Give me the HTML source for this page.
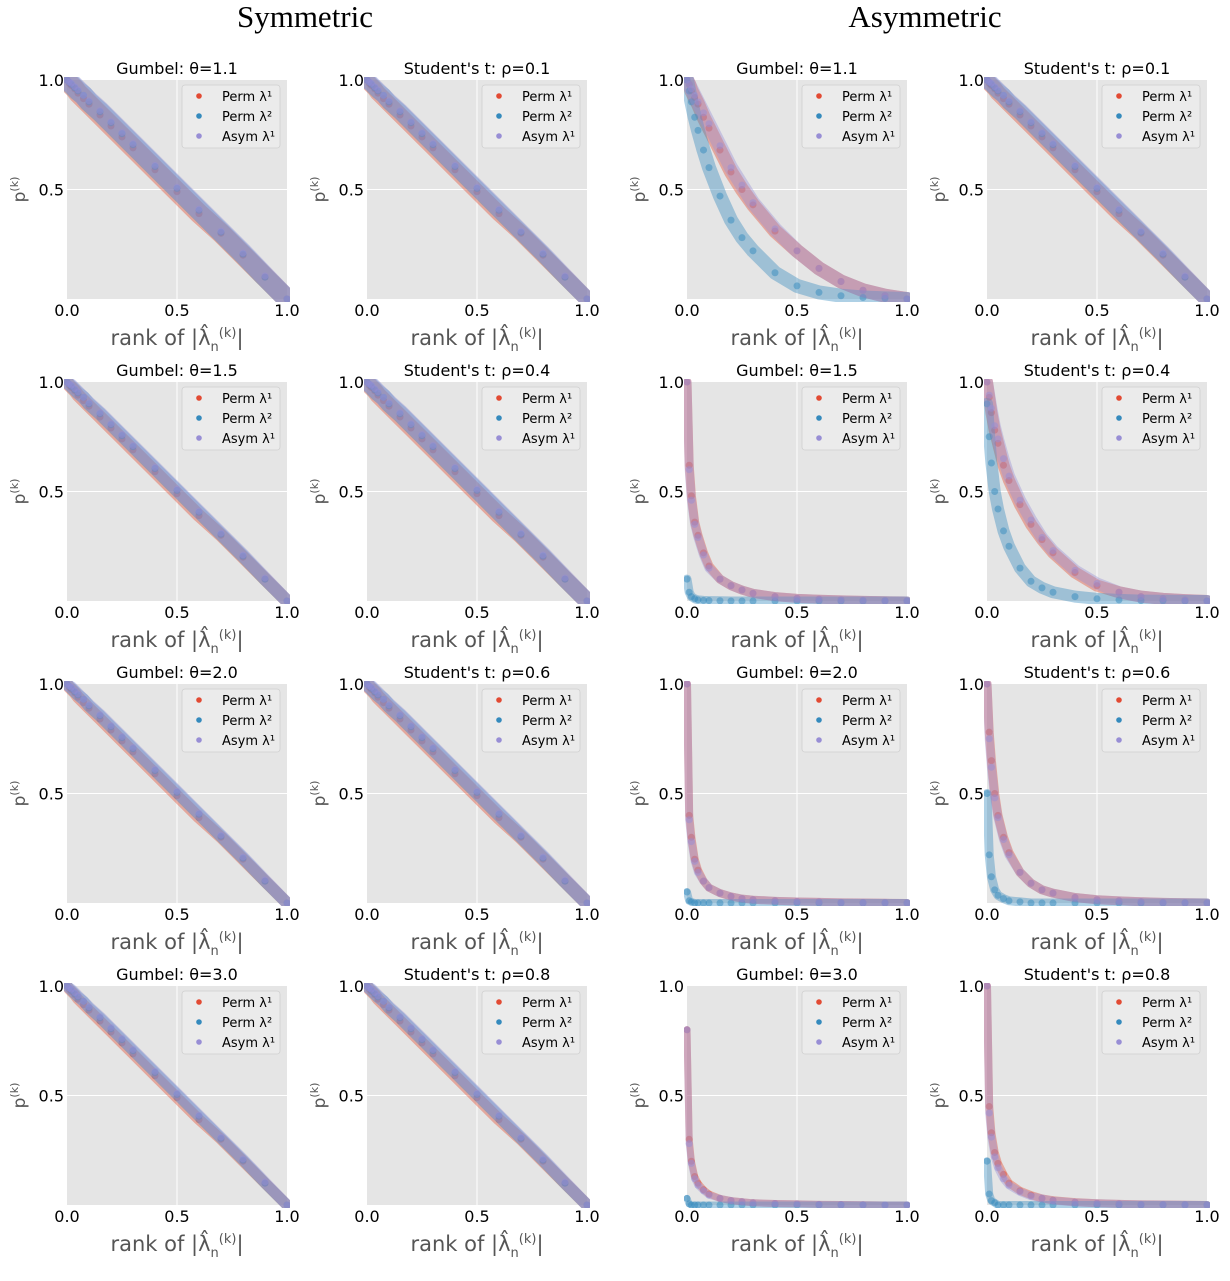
<!DOCTYPE html>
<html><head><meta charset="utf-8"><style>body{margin:0;background:#fff}svg{display:block;font-family:"DejaVu Sans","Liberation Sans",sans-serif}</style></head>
<body>
<svg id="fig" width="1230" height="1281" viewBox="0 0 1230 1281">
<text x="305" y="27" font-size="31" text-anchor="middle" font-family="Liberation Serif,serif">Symmetric</text>
<text x="925" y="27" font-size="31" text-anchor="middle" font-family="Liberation Serif,serif">Asymmetric</text>
</svg>
<script>
const xs=[0,0.01,0.02,0.035,0.05,0.075,0.1,0.15,0.2,0.25,0.3,0.4,0.5,0.6,0.7,0.8,0.9,1.0];
const xTicks=["0.0","0.5","1.0"];
const yTicks=["0.5","1.0"];
const seriesNames=["Perm λ¹","Perm λ²","Asym λ¹"];
const titles=[["Gumbel: θ=1.1","Student's t: ρ=0.1","Gumbel: θ=1.1","Student's t: ρ=0.1"],
["Gumbel: θ=1.5","Student's t: ρ=0.4","Gumbel: θ=1.5","Student's t: ρ=0.4"],
["Gumbel: θ=2.0","Student's t: ρ=0.6","Gumbel: θ=2.0","Student's t: ρ=0.6"],
["Gumbel: θ=3.0","Student's t: ρ=0.8","Gumbel: θ=3.0","Student's t: ρ=0.8"]];
const linRed=[1,0.985,0.975,0.96,0.94,0.915,0.89,0.84,0.79,0.74,0.69,0.59,0.49,0.39,0.3,0.2,0.1,0];
const linBlue=[1,0.99,0.98,0.965,0.95,0.93,0.9,0.855,0.805,0.755,0.705,0.605,0.505,0.405,0.305,0.205,0.1,0];
const linPurple=[1,0.99,0.985,0.97,0.955,0.93,0.905,0.86,0.81,0.76,0.71,0.61,0.51,0.41,0.31,0.21,0.105,0];
const a1Red=[1,0.98,0.95,0.92,0.89,0.83,0.78,0.68,0.58,0.5,0.43,0.31,0.22,0.14,0.08,0.04,0.015,0];
const a1Blue=[1,0.95,0.9,0.83,0.77,0.68,0.6,0.47,0.36,0.28,0.22,0.12,0.06,0.03,0.015,0.007,0.003,0];
const a1Purple=[1,0.98,0.96,0.93,0.9,0.85,0.8,0.7,0.6,0.52,0.44,0.32,0.22,0.14,0.08,0.04,0.015,0];
const a2Red=[1,0.62,0.48,0.36,0.3,0.22,0.16,0.1,0.07,0.05,0.035,0.02,0.012,0.008,0.005,0.003,0.001,0];
const a2Blue=[0.1,0.04,0.02,0.01,0.005,0.003,0.002,0.001,0,0,0,0,0,0,0,0,0,0];
const a2Purple=[1,0.6,0.46,0.35,0.29,0.21,0.15,0.1,0.07,0.05,0.035,0.02,0.012,0.008,0.005,0.003,0.001,0];
const b2Red=[1,0.93,0.86,0.78,0.72,0.62,0.55,0.44,0.35,0.28,0.22,0.13,0.07,0.04,0.02,0.01,0.004,0];
const b2Blue=[0.9,0.75,0.63,0.5,0.42,0.32,0.25,0.15,0.09,0.06,0.04,0.02,0.01,0.005,0.002,0.001,0,0];
const b2Purple=[1,0.94,0.88,0.8,0.74,0.65,0.57,0.46,0.37,0.29,0.23,0.14,0.08,0.04,0.02,0.01,0.004,0];
const a3Red=[1,0.4,0.3,0.2,0.15,0.1,0.07,0.045,0.03,0.02,0.015,0.01,0.007,0.005,0.003,0.002,0.001,0];
const a3Blue=[0.05,0.01,0.005,0,0,0,0,0,0,0,0,0,0,0,0,0,0,0];
const a3Purple=[1,0.38,0.28,0.19,0.14,0.1,0.07,0.045,0.03,0.02,0.015,0.01,0.007,0.005,0.003,0.002,0.001,0];
const b3Red=[1,0.78,0.65,0.5,0.4,0.3,0.23,0.14,0.09,0.06,0.045,0.025,0.015,0.01,0.006,0.003,0.001,0];
const b3Blue=[0.5,0.22,0.12,0.06,0.035,0.02,0.01,0.005,0,0,0,0,0,0,0,0,0,0];
const b3Purple=[1,0.75,0.62,0.48,0.39,0.29,0.22,0.14,0.09,0.06,0.045,0.025,0.015,0.01,0.006,0.003,0.001,0];
const a4Red=[0.8,0.3,0.2,0.13,0.1,0.07,0.05,0.03,0.02,0.015,0.01,0.007,0.005,0.003,0.002,0.001,0,0];
const a4Blue=[0.03,0.005,0,0,0,0,0,0,0,0,0,0,0,0,0,0,0,0];
const a4Purple=[0.8,0.28,0.19,0.12,0.09,0.065,0.045,0.03,0.02,0.015,0.01,0.007,0.005,0.003,0.002,0.001,0,0];
const b4Red=[1,0.45,0.33,0.24,0.19,0.14,0.1,0.065,0.045,0.03,0.022,0.013,0.008,0.005,0.003,0.002,0.001,0];
const b4Blue=[0.2,0.05,0.02,0.01,0,0,0,0,0,0,0,0,0,0,0,0,0,0];
const b4Purple=[1,0.42,0.31,0.22,0.17,0.12,0.09,0.06,0.04,0.03,0.02,0.012,0.008,0.005,0.003,0.002,0.001,0];

const colors=["#e24a33","#348abd","#988ed5"];
const panelData=[
[[linRed,linBlue,linPurple],[linRed,linBlue,linPurple],[a1Red,a1Blue,a1Purple],[linRed,linBlue,linPurple]],
[[linRed,linBlue,linPurple],[linRed,linBlue,linPurple],[a2Red,a2Blue,a2Purple],[b2Red,b2Blue,b2Purple]],
[[linRed,linBlue,linPurple],[linRed,linBlue,linPurple],[a3Red,a3Blue,a3Purple],[b3Red,b3Blue,b3Purple]],
[[linRed,linBlue,linPurple],[linRed,linBlue,linPurple],[a4Red,a4Blue,a4Purple],[b4Red,b4Blue,b4Purple]]];
const bandW=[[20,16,14,16],[13,17,9,12],[12,14,8,9],[11,12,7,8]];

const NS="http://www.w3.org/2000/svg";
const svg=document.getElementById('fig');
function mk(tag,attrs,parent,txt){const e=document.createElementNS(NS,tag);for(const k in attrs)e.setAttribute(k,attrs[k]);if(txt!==undefined)e.textContent=txt;parent.appendChild(e);return e;}
const colX=[67,367,687,987],rowY=[80,382,684,986],W=220,H=219;
for(let r=0;r<4;r++)for(let c=0;c<4;c++){
  const x0=colX[c],y0=rowY[r];
  const sx=v=>x0+v*W, sy=v=>y0+H-v*H;
  const g=mk('g',{},svg);
  
  
  const bg=mk('rect',{x:x0,y:y0,width:W,height:H,fill:'#e5e5e5'},g);
  
  
  mk('line',{x1:sx(0.5),x2:sx(0.5),y1:y0,y2:y0+H,stroke:'#fff','stroke-width':1},g);
  mk('line',{x1:x0,x2:x0+W,y1:sy(0.5),y2:sy(0.5),stroke:'#fff','stroke-width':1},g);
  const clip=mk('clipPath',{id:'cp'+r+c},g);
  mk('rect',{x:x0-3,y:y0-3,width:W+6,height:H+6},clip);
  const dg=mk('g',{'clip-path':'url(#cp'+r+c+')'},g);
  panelData[r][c].forEach((ys,si)=>{
    const s=mk('g',{},dg);
    
    
    const pts=xs.map((x,i)=>sx(x)+','+sy(ys[i])).join(' ');
    mk('polyline',{points:pts,fill:'none',stroke:colors[si],'stroke-width':bandW[r][c],'stroke-opacity':0.4,'stroke-linejoin':'round','stroke-linecap':'round'},s);
    xs.forEach((x,i)=>{const p=mk('circle',{cx:sx(x),cy:sy(ys[i]),r:3.5,fill:colors[si],'fill-opacity':0.5},s);
      
      });
  });
  const t=mk('text',{x:x0+W/2,y:y0-6,'font-size':16,'text-anchor':'middle'},g,titles[r][c]);
  
  
  xTicks.forEach((l,i)=>{const tx=mk('text',{x:sx(i*0.5),y:y0+H+17,'font-size':16,'text-anchor':'middle'},g,l);
    
    });
  yTicks.forEach((l,i)=>{const ty=mk('text',{x:x0-3,y:sy((i+1)*0.5)+6,'font-size':16,'text-anchor':'end'},g,l);
    
    });
  const xl=mk('text',{x:x0+W/2,y:y0+H+46,'font-size':21,'text-anchor':'middle',fill:'#555'},g,'rank of |λ̂');
  mk('tspan',{'font-size':13,dy:6},xl,'n');
  mk('tspan',{'font-size':13,dy:-14},xl,'(k)');
  mk('tspan',{dy:8},xl,'|');
  
  
  const yl=mk('text',{transform:'translate('+(x0-42)+','+(y0+H/2)+') rotate(-90)','font-size':17,'text-anchor':'middle',fill:'#555'},g,'p');
  mk('tspan',{'font-size':11,dy:-7},yl,'(k)');
  
  
  const lg=mk('g',{},g);
  
  
  mk('rect',{x:x0+115,y:y0+5,width:98,height:63,rx:3,fill:'#ebebeb',stroke:'#d0d0d0','stroke-width':0.8},lg);
  seriesNames.forEach((n,i)=>{
    mk('circle',{cx:x0+132,cy:y0+16+i*20,r:2.8,fill:colors[i]},lg);
    const le=mk('text',{x:x0+155,y:y0+21+i*20,'font-size':13},lg,n);
    
    
  });
}
</script>
</body></html>
